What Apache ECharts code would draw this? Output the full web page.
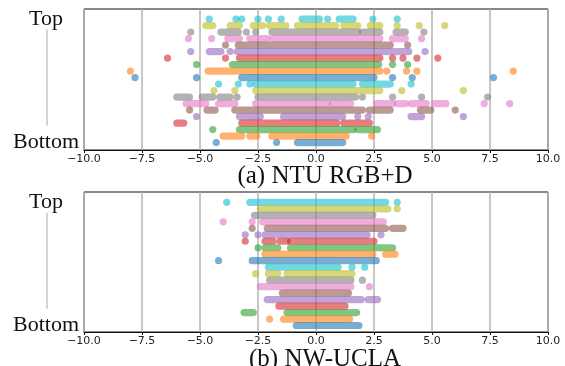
<!DOCTYPE html>
<html>
<head>
<meta charset="utf-8">
<script src="https://cdn.jsdelivr.net/npm/echarts@6/dist/echarts.min.js"></script>
<style>
  html, body { margin: 0; padding: 0; background: #fff; }
  #chart { width: 565px; height: 366px; }
</style>
</head>
<body>
<div id="chart"></div>
<script>
// tab10 colours, bottom row = blue, going up the cycle
const palette = ['#1f77b4', '#ff7f0e', '#2ca02c', '#d62728', '#9467bd',
  '#8c564b', '#e377c2', '#7f7f7f', '#bcbd22', '#17becf']

const xMin = -10
const xMax = 10
const xStep = 2.5
const rowLabels = ['Top', 'Bottom']
const titles = ['(a) NTU RGB+D', '(b) NW-UCLA']

// rows listed top -> bottom; a number is one dot, [from, to] is a run of touching dots
const ntuRows = [
  [-4.6, -3.45, -3.2, -2.5, -2.05, -1.5, [-0.6, 0.15], 0.5, [1.0, 1.6], 2.45, 3.5],
  [[-4.75, -4.45], [-3.7, -3.3], [-2.7, -2.3], [-2.0, -1.3], [-0.8, 0.85], [1.2, 1.8], [2.35, 2.75], 3.5, 4.45, 5.55],
  [-5.4, [-4.1, -3.35], -3.0, -2.6, [-1.9, 1.8], [2.0, 2.75], [3.45, 3.85], 4.65],
  [-5.5, -4.5, [-3.8, -3.3], [-2.85, -2.1], [-1.85, 2.75], [3.3, 3.85], 4.55],
  [-3.9, [-3.35, 3.2], 3.95],
  [-5.4, [-4.6, -4.1], -3.7, [-3.4, 4.0], 4.7],
  [-6.4, -3.9, [-3.3, 2.75], 3.3, 3.75, 4.35, 5.25],
  [-5.15, [-3.6, 2.7], 3.3, 3.95],
  [-8.0, [-4.65, 2.75], 3.05, 3.9, 4.35, 8.5],
  [-7.8, -5.15, [-3.2, 2.5], 3.3, 4.15, 7.65],
  [-4.2, -3.35, -2.85, [-2.6, 1.6], [2.0, 3.2], 4.1],
  [-4.4, -3.5, [-2.6, 2.75], 3.7, 6.35],
  [[-6.0, -5.45], [-4.9, -4.45], [-4.15, -3.7], -3.4, [-2.5, 1.7], 2.0, 3.3, 4.55, 7.4],
  [[-5.6, -4.75], [-4.2, -3.5], [-2.6, 0.5], [0.7, 1.5], [2.6, 3.3], [3.5, 3.85], [4.1, 4.75], [5.1, 5.6], 7.25, 8.35],
  [-5.45, [-4.7, -4.35], [-3.5, 2.0], [2.3, 3.2], [4.5, 4.95], 6.0],
  [-5.15, [-3.3, -2.4], [-1.4, 1.15], 1.8, 2.25, [4.1, 4.55], 6.35],
  [[-6.0, -5.7], [-3.2, 0.9], [1.2, 2.3]],
  [-4.45, [-3.3, 1.6], [1.8, 2.65]],
  [[-4.0, -3.2], [-2.85, -2.55], [-1.9, 1.3], 2.4],
  [-4.3, -1.7, [-0.8, 1.15]]
]

const uclaRows = [
  [-3.85, [-2.85, 3.0], 3.5],
  [[-2.4, 3.1], 3.5],
  [[-2.65, 2.45]],
  [-4.0, -2.75, [-2.3, 2.9]],
  [-2.75, [-2.1, 3.0], [3.3, 3.75]],
  [-3.05, -2.5, [-2.2, 2.2], 2.8],
  [-3.05, [-2.2, -1.85], [-1.55, -1.25], [-1.1, 2.5]],
  [-2.5, [-2.2, -1.65], [-1.1, 3.3]],
  [[-2.2, 2.45], [3.0, 3.4]],
  [-4.2, [-2.75, 2.6]],
  [[-2.05, 0.95], 1.55, 2.1],
  [-2.6, [-2.05, -1.65], [-1.25, 1.55]],
  [[-2.0, 1.5], 2.0],
  [[-2.4, 1.5], 2.3],
  [[-1.45, 1.4]],
  [[-2.1, 1.95], [2.25, 2.65]],
  [[-1.6, 1.25]],
  [[-3.1, -2.7], [-1.25, 1.75]],
  [-2.0, [-1.4, 1.45]],
  [[-0.85, 1.85]]
]

function toItems (rows) {
  let items = []
  rows.forEach((row, r) => {
    row.forEach(d => {
      let a = Array.isArray(d) ? d : [d, d]
      items.push([a[0], a[1], r])
    })
  })
  return items
}

const nRows = ntuRows.length
const dotR = 3.6

function renderRun (params, api) {
  let row = api.value(2)
  let p1 = api.coord([api.value(0), row])
  let p2 = api.coord([api.value(1), row])
  return {
    type: 'rect',
    shape: { x: p1[0] - dotR, y: p1[1] - dotR, width: p2[0] - p1[0] + 2 * dotR, height: 2 * dotR, r: dotR },
    style: { fill: palette[(nRows - 1 - row) % 10], opacity: 0.6 }
  }
}

const grids = [
  { left: 84, right: 17, top: 9, height: 141 },
  { left: 84, right: 17, top: 192, height: 140 }
]
const yRanges = [[-1.55, 20.15], [-1.6, 20.0]]

let chart = echarts.init(document.getElementById('chart'))

let option = {
  animation: false,
  grid: grids.map(g => Object.assign({ show: true, borderColor: '#111', borderWidth: 1 }, g)),
  title: titles.map((t, i) => ({
    text: t,
    left: 320,
    textAlign: 'center',
    top: i === 0 ? 159 : 342,
    textStyle: { fontFamily: 'Liberation Serif', fontWeight: 'normal', fontSize: 25, color: '#111' }
  })),
  xAxis: grids.map((g, i) => ({
    type: 'value',
    gridIndex: i,
    min: xMin,
    max: xMax,
    interval: xStep,
    axisLine: { show: true, onZero: false, lineStyle: { color: '#111', width: 1 } },
    axisTick: { show: true, length: 3, lineStyle: { color: '#111' } },
    splitLine: { show: true, lineStyle: { color: '#b4b4b4', width: 1.5 } },
    axisLabel: {
      margin: 4,
      fontFamily: 'DejaVu Sans',
      fontSize: 11,
      color: '#222',
      formatter: v => (v < 0 ? '\u2212' : '') + Math.abs(v).toFixed(1)
    }
  })),
  yAxis: grids.map((g, i) => ({
    type: 'value',
    gridIndex: i,
    inverse: true,
    min: yRanges[i][0],
    max: yRanges[i][1],
    axisLine: { show: false },
    axisTick: { show: false },
    splitLine: { show: false },
    axisLabel: {
      customValues: [0, nRows - 1],
      align: 'center',
      margin: 38,
      fontFamily: 'Liberation Serif',
      fontSize: 22,
      color: '#111',
      formatter: v => (v === 0 ? rowLabels[0] : rowLabels[1])
    }
  })),
  series: [ntuRows, uclaRows].map((rows, i) => ({
    type: 'custom',
    xAxisIndex: i,
    yAxisIndex: i,
    renderItem: renderRun,
    encode: { x: [0, 1], y: 2 },
    data: toItems(rows)
  }))
}

chart.setOption(option)

// thin vertical rule between "Top" and "Bottom"
let rules = grids.map((g, i) => {
  let y1 = chart.convertToPixel({ yAxisIndex: i }, 1.6)
  let y2 = chart.convertToPixel({ yAxisIndex: i }, 16.4)
  return {
    type: 'line',
    shape: { x1: g.left - 37, y1: y1, x2: g.left - 37, y2: y2 },
    style: { stroke: '#a8a8a8', lineWidth: 1 }
  }
})
chart.setOption({ graphic: rules })
</script>
</body>
</html>
